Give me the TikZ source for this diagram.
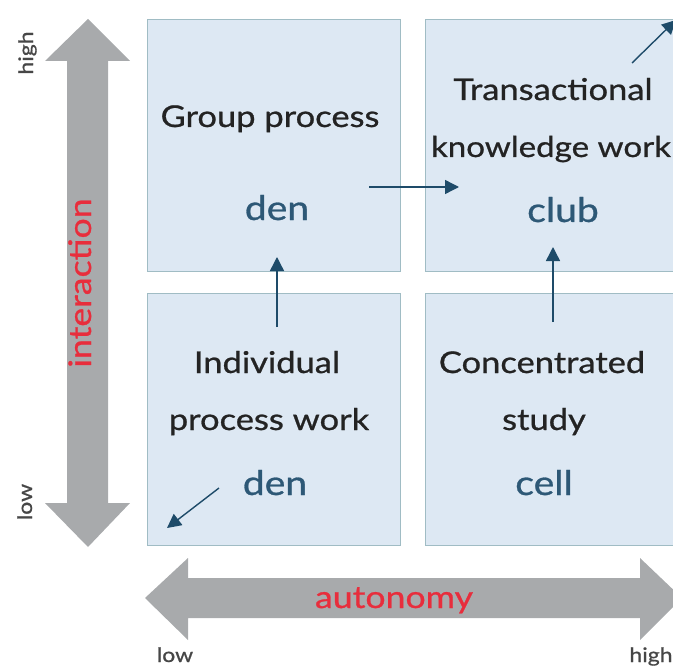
\documentclass[tikz,border=0pt]{standalone}
\usepackage{fontspec}
\setmainfont{Lato}[FakeStretch=1.15, FakeBold=0.8]
\usetikzlibrary{arrows.meta}
\definecolor{boxfill}{RGB}{221,232,243}
\definecolor{boxline}{RGB}{160,188,196}
\definecolor{axisgrey}{RGB}{168,170,172}
\definecolor{axisred}{RGB}{232,45,60}
\definecolor{placeblue}{RGB}{45,88,118}
\definecolor{flowblue}{RGB}{30,75,105}
\definecolor{inktext}{RGB}{35,35,35}
\definecolor{scaletext}{RGB}{70,70,70}
\begin{document}
\begin{tikzpicture}[x=1pt,y=-1pt,
  quad/.style={draw=boxline, line width=1.2pt, fill=boxfill, minimum width=#1,
    minimum height=252pt, inner sep=0pt, anchor=north west},
  worklabel/.style={text=inktext, font=\fontsize{30}{32}\selectfont, anchor=base, inner sep=0pt},
  placelabel/.style={text=placeblue, font=\fontsize{34}{36}\selectfont, anchor=base, inner sep=0pt},
  axislabel/.style={text=axisred, font=\fontsize{31}{32}\selectfont, anchor=base, inner sep=0pt},
  scalelabel/.style={text=scaletext, font=\fontsize{20}{22}\selectfont, anchor=base, inner sep=0pt},
  flow/.style={draw=flowblue, line width=1.4pt, -{Triangle[length=14pt,width=14pt]}}]
\useasboundingbox (0,0) rectangle (673,669);

% the four quadrants
\node[quad=253pt] (tl) at (147,19) {};
\node[quad=280pt] (tr) at (425,19) {};
\node[quad=253pt] (bl) at (147,293) {};
\node[quad=280pt] (br) at (425,293) {};

% interaction axis (vertical double arrow)
\fill[axisgrey] (67,61) -- (45,61) -- (88,19) -- (130,61) -- (108,61)
  -- (108,503) -- (130,503) -- (88,547) -- (45,503) -- (67,503) -- cycle;
% autonomy axis (horizontal double arrow)
\fill[axisgrey] (188,578) -- (188,558) -- (145,598) -- (188,640) -- (188,618)
  -- (640,618) -- (640,640) -- (682,598) -- (640,558) -- (640,578) -- cycle;

\node[axislabel, rotate=90] (interaction) at (91,283) {interaction};
\node[axislabel] (autonomy) at (394,608) {autonomy};

\node[scalelabel, rotate=90] (yhigh) at (33,53) {high};
\node[scalelabel, rotate=90] (ylow) at (32,502) {low};
\node[scalelabel] (xlow) at (175,662) {low};
\node[scalelabel] (xhigh) at (651,662) {high};

% quadrant texts
\node[worklabel] (group) at (270,127) {Group process};
\node[placelabel] (den1) at (277,220) {den};
\node[worklabel] (trans1) at (553,100) {Transactional};
\node[worklabel, font=\fontsize{28.8}{32}\selectfont] (trans2) at (551,157) {knowledge work};
\node[placelabel] (club) at (563,222) {club};
\node[worklabel] (indiv1) at (267,373) {Individual};
\node[worklabel] (indiv2) at (269,430) {process work};
\node[placelabel] (den2) at (275,495) {den};
\node[worklabel] (conc1) at (542,373) {Concentrated};
\node[worklabel] (conc2) at (544,430) {study};
\node[placelabel] (cell) at (544,495) {cell};

% movement between settings
\coordinate (a1) at (369,187); \coordinate (a2) at (459,187);
\coordinate (b1) at (277,327); \coordinate (b2) at (277,257);
\coordinate (c1) at (553,322); \coordinate (c2) at (553,247);
\coordinate (d1) at (219,488); \coordinate (d2) at (167,528);
\coordinate (e1) at (632,63);  \coordinate (e2) at (676,20);
\draw[flow] (a1) -- (a2);
\draw[flow] (b1) -- (b2);
\draw[flow] (c1) -- (c2);
\draw[flow] (d1) -- (d2);
\draw[flow] (e1) -- (e2);
\end{tikzpicture}
\end{document}
